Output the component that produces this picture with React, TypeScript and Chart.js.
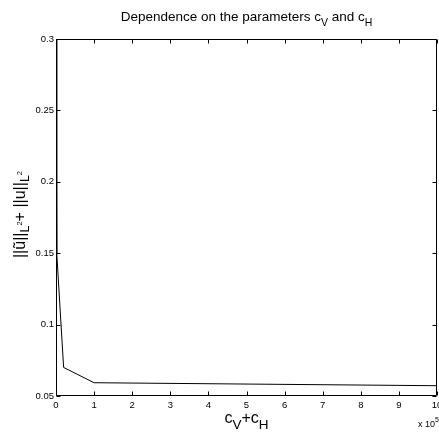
import React, { useEffect, useRef } from "react";
import { Chart, registerables } from "chart.js";

Chart.register(...registerables);

// ---- data ----
const xValues = [0, 0.02, 0.2, 1, 10]; // c_V + c_H  (x 10^5)
const yValues = [0.3, 0.15, 0.07, 0.0593, 0.0572];
const xMin = 0;
const xMax = 10;
const xStep = 1;
const yMin = 0.05;
const yMax = 0.3;
const yStep = 0.05;

const FONT = '"Liberation Sans", Arial, Helvetica, sans-serif';

type Seg = { t: string; s: number; dy: number };

const titleSegs: Seg[] = [
  { t: "Dependence on the parameters c", s: 13.5, dy: 0 },
  { t: "V", s: 10.5, dy: 5 },
  { t: " and c", s: 13.5, dy: 0 },
  { t: "H", s: 10.5, dy: 5 },
];

const xLabelSegs: Seg[] = [
  { t: "c", s: 16, dy: 0 },
  { t: "V", s: 13.5, dy: 6 },
  { t: "+c", s: 16, dy: 0 },
  { t: "H", s: 13.5, dy: 6 },
];

const yLabelSegs: Seg[] = [
  { t: "||ũ||", s: 16, dy: 0 },
  { t: "L", s: 12.5, dy: 4 },
  { t: "2", s: 7.5, dy: -3 },
  { t: "+ ||u||", s: 16, dy: 0 },
  { t: "L", s: 12.5, dy: 4 },
  { t: "2", s: 7.5, dy: -3 },
];

const exponentSegs: Seg[] = [
  { t: "x 10", s: 9, dy: 0 },
  { t: "5", s: 7, dy: -5 },
];

function segsWidth(ctx: CanvasRenderingContext2D, segs: Seg[]) {
  let w = 0;
  for (const g of segs) {
    ctx.font = `${g.s}px ${FONT}`;
    w += ctx.measureText(g.t).width;
  }
  return w;
}

function drawSegs(ctx: CanvasRenderingContext2D, segs: Seg[], x: number, y: number) {
  let cx = x;
  ctx.textAlign = "left";
  ctx.textBaseline = "alphabetic";
  for (const g of segs) {
    ctx.font = `${g.s}px ${FONT}`;
    ctx.fillText(g.t, cx, y + g.dy);
    cx += ctx.measureText(g.t).width;
  }
}

const framePlugin = {
  id: "matlabFrame",
  afterDraw(chart: any) {
    const ctx: CanvasRenderingContext2D = chart.ctx;
    const { left, right, top, bottom } = chart.chartArea;
    const xs = chart.scales.x;
    const ys = chart.scales.y;
    ctx.save();
    ctx.strokeStyle = "#000";
    ctx.lineWidth = 1;
    const L = Math.round(left) + 0.5;
    const R = Math.round(right) - 0.5;
    const T = Math.round(top) + 0.5;
    const B = Math.round(bottom) - 0.5;
    ctx.beginPath();
    ctx.rect(L, T, R - L, B - T);
    ctx.stroke();
    const tl = 4;
    ctx.beginPath();
    for (const tk of xs.ticks) {
      const px = Math.round(xs.getPixelForValue(tk.value)) + 0.5;
      ctx.moveTo(px, B);
      ctx.lineTo(px, B - tl);
      ctx.moveTo(px, T);
      ctx.lineTo(px, T + tl);
    }
    for (const tk of ys.ticks) {
      const py = Math.round(ys.getPixelForValue(tk.value)) + 0.5;
      ctx.moveTo(L, py);
      ctx.lineTo(L + tl, py);
      ctx.moveTo(R, py);
      ctx.lineTo(R - tl, py);
    }
    ctx.stroke();

    ctx.fillStyle = "#000";
    const cx = (left + right) / 2;
    const cy = (top + bottom) / 2;
    // title
    const tw = segsWidth(ctx, titleSegs);
    drawSegs(ctx, titleSegs, cx - tw / 2, 21);
    // x label
    const xw = segsWidth(ctx, xLabelSegs);
    drawSegs(ctx, xLabelSegs, cx - xw / 2, 423);
    // exponent
    drawSegs(ctx, exponentSegs, 418, 427);
    // y label
    const yw = segsWidth(ctx, yLabelSegs);
    ctx.save();
    ctx.translate(25, cy - 3);
    ctx.rotate(-Math.PI / 2);
    drawSegs(ctx, yLabelSegs, -yw / 2, 0);
    ctx.restore();
    ctx.restore();
  },
};

export default function App() {
  const ref = useRef<HTMLCanvasElement | null>(null);
  useEffect(() => {
    if (!ref.current) return;
    const chart = new Chart(ref.current, {
      type: "line",
      data: {
        datasets: [
          {
            data: xValues.map((x, i) => ({ x, y: yValues[i] })),
            borderColor: "#000",
            borderWidth: 1,
            pointRadius: 0,
            tension: 0,
            fill: false,
          },
        ],
      },
      options: {
        responsive: false,
        animation: false,
        devicePixelRatio: 1,
        layout: { padding: { top: 39, bottom: 0, left: 0, right: 2 } },
        plugins: {
          legend: { display: false },
          tooltip: { enabled: false },
          title: { display: false },
        },
        scales: {
          x: {
            type: "linear",
            min: xMin,
            max: xMax,
            grid: { display: false, drawTicks: false },
            border: { display: false },
            ticks: {
              stepSize: xStep,
              autoSkip: false,
              maxRotation: 0,
              padding: 4,
              color: "#000",
              font: { family: FONT, size: 9.5 },
              callback: (v: any) => String(Math.round(Number(v))),
            },
            afterFit: (s: any) => {
              s.height = 41;
              s.paddingLeft = 0;
              s.paddingRight = 0;
            },
          },
          y: {
            type: "linear",
            min: yMin,
            max: yMax,
            grid: { display: false, drawTicks: false },
            border: { display: false },
            ticks: {
              stepSize: yStep,
              autoSkip: false,
              padding: 2,
              color: "#000",
              font: { family: FONT, size: 9.5 },
              callback: (v: any) => String(parseFloat(Number(v).toFixed(2))),
            },
            afterFit: (s: any) => {
              s.width = 56;
              s.paddingTop = 0;
              s.paddingBottom = 0;
            },
          },
        },
      },
      plugins: [framePlugin],
    });
    return () => chart.destroy();
  }, []);
  return (
    <div
      style={{
        position: "fixed",
        left: 0,
        top: 0,
        width: 439,
        height: 437,
        overflow: "hidden",
        background: "#fff",
      }}
    >
      <canvas ref={ref} width={439} height={437} style={{ display: "block" }} />
    </div>
  );
}
